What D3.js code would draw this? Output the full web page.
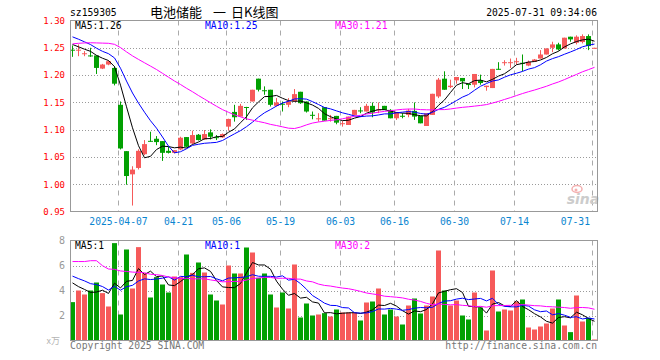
<!DOCTYPE html>
<html>
<head>
<meta charset="utf-8">
<script src="https://cdnjs.cloudflare.com/ajax/libs/d3/7.8.5/d3.min.js"></script>
<style>
  body { margin: 0; background: #fff; }
  text { font-family: "DejaVu Sans Mono", "Liberation Mono", monospace; }
</style>
</head>
<body>
<div id="wrapper"></div>
<script>
// trading days shown (88 sessions)
var dates = [
  '2025-03-25','2025-03-26','2025-03-27','2025-03-28','2025-03-31',
  '2025-04-01','2025-04-02','2025-04-03','2025-04-07','2025-04-08','2025-04-09','2025-04-10','2025-04-11',
  '2025-04-14','2025-04-15','2025-04-16','2025-04-17','2025-04-18','2025-04-21','2025-04-22','2025-04-23',
  '2025-04-24','2025-04-25','2025-04-28','2025-04-29','2025-04-30',
  '2025-05-06','2025-05-07','2025-05-08','2025-05-09','2025-05-12','2025-05-13','2025-05-14','2025-05-15',
  '2025-05-16','2025-05-19','2025-05-20','2025-05-21','2025-05-22','2025-05-23','2025-05-26','2025-05-27',
  '2025-05-28','2025-05-29','2025-05-30',
  '2025-06-03','2025-06-04','2025-06-05','2025-06-06','2025-06-09','2025-06-10','2025-06-11','2025-06-12',
  '2025-06-13','2025-06-16','2025-06-17','2025-06-18','2025-06-19','2025-06-20','2025-06-23','2025-06-24',
  '2025-06-25','2025-06-26','2025-06-27','2025-06-30',
  '2025-07-01','2025-07-02','2025-07-03','2025-07-04','2025-07-07','2025-07-08','2025-07-09','2025-07-10',
  '2025-07-11','2025-07-14','2025-07-15','2025-07-16','2025-07-17','2025-07-18','2025-07-21','2025-07-22',
  '2025-07-23','2025-07-24','2025-07-25','2025-07-28','2025-07-29','2025-07-30','2025-07-31'
];

var open = [
  1.2465,1.2450,1.2390,1.2360,1.2359,1.2119,1.2193,1.2131,1.1455,1.0606,
  1.0181,1.0298,1.0550,1.0795,1.0833,1.0790,1.0612,1.0575,1.0637,1.0864,
  1.0747,1.0907,1.0821,1.0950,1.0862,1.0858,1.1055,1.1325,1.1239,1.1415,
  1.1516,1.1934,1.1722,1.1731,1.1436,1.1475,1.1455,1.1516,1.1694,1.1516,
  1.1272,1.1205,1.1411,1.1205,1.1252,1.1114,1.1085,1.1270,1.1352,1.1332,
  1.1436,1.1367,1.1436,1.1362,1.1208,1.1254,1.1270,1.1344,1.1252,1.1067,
  1.1270,1.1608,1.1934,1.1780,1.1903,1.1947,1.1842,1.1823,1.1903,1.1780,
  1.1762,1.2115,1.2234,1.2233,1.2252,1.2225,1.2174,1.2242,1.2303,1.2377,
  1.2500,1.2562,1.2488,1.2703,1.2592,1.2605,1.2715,1.2488
];
var high = [
  1.2543,1.2562,1.2439,1.2500,1.2359,1.2205,1.2270,1.2162,1.1516,1.0606,
  1.0329,1.0640,1.0809,1.0962,1.0882,1.0790,1.0686,1.0624,1.0870,1.0864,
  1.0981,1.0920,1.0993,1.1005,1.0901,1.0930,1.1200,1.1455,1.1473,1.1418,
  1.1731,1.1934,1.1793,1.1731,1.1578,1.1516,1.1578,1.1744,1.1694,1.1516,
  1.1332,1.1301,1.1411,1.1270,1.1252,1.1159,1.1239,1.1362,1.1411,1.1473,
  1.1498,1.1498,1.1436,1.1375,1.1319,1.1301,1.1381,1.1498,1.1252,1.1301,
  1.1657,1.1947,1.2069,1.1916,1.1965,1.1947,1.1842,1.2020,1.2008,1.1805,
  1.2113,1.2236,1.2272,1.2303,1.2316,1.2377,1.2266,1.2295,1.2457,1.2488,
  1.2611,1.2592,1.2685,1.2703,1.2728,1.2746,1.2746,1.2500
];
var low = [
  1.2334,1.2346,1.2346,1.2334,1.2020,1.2110,1.2180,1.1811,1.0637,0.9991,
  0.9609,1.0270,1.0532,1.0778,1.0716,1.0427,1.0563,1.0563,1.0624,1.0674,
  1.0735,1.0800,1.0810,1.0821,1.0809,1.0850,1.0981,1.1147,1.1239,1.1178,
  1.1516,1.1700,1.1639,1.1424,1.1424,1.1332,1.1411,1.1516,1.1473,1.1313,
  1.1190,1.1147,1.1165,1.1147,1.1098,1.1055,1.1085,1.1258,1.1301,1.1332,
  1.1227,1.1301,1.1362,1.1208,1.1178,1.1208,1.1227,1.1178,1.1116,1.1067,
  1.1270,1.1578,1.1731,1.1762,1.1842,1.1744,1.1744,1.1774,1.1823,1.1713,
  1.1762,1.2100,1.2174,1.2131,1.2193,1.2069,1.2162,1.2242,1.2303,1.2377,
  1.2420,1.2450,1.2488,1.2611,1.2562,1.2580,1.2457,1.2488
];
var close = [
  1.2455,1.2465,1.2400,1.2355,1.2131,1.2193,1.2254,1.1842,1.0655,1.0150,
  1.0268,1.0612,1.0735,1.0790,1.0772,1.0575,1.0575,1.0624,1.0852,1.0686,
  1.0901,1.0809,1.0919,1.0870,1.0856,1.0919,1.1196,1.1227,1.1436,1.1410,
  1.1731,1.1731,1.1719,1.1455,1.1498,1.1473,1.1516,1.1651,1.1485,1.1332,
  1.1270,1.1208,1.1165,1.1210,1.1128,1.1118,1.1239,1.1362,1.1350,1.1436,
  1.1313,1.1370,1.1362,1.1208,1.1319,1.1252,1.1350,1.1239,1.1116,1.1301,
  1.1657,1.1916,1.1731,1.1805,1.1965,1.1885,1.1817,1.2020,1.1854,1.1805,
  1.2113,1.2113,1.2236,1.2236,1.2254,1.2223,1.2242,1.2285,1.2377,1.2488,
  1.2562,1.2469,1.2685,1.2654,1.2703,1.2715,1.2531,1.2500
];
// volume, unit 10k
var volume = [
  3.07,4.00,3.68,4.00,4.64,3.79,2.72,7.79,2.08,7.28,
  4.16,7.47,5.39,3.44,5.07,4.48,3.84,5.12,5.07,6.88,
  5.41,6.24,5.44,3.68,3.20,2.88,6.00,5.36,5.36,7.44,
  7.04,5.01,5.36,3.68,2.64,3.84,2.56,6.08,1.84,2.96,
  2.00,2.08,2.19,1.92,2.48,2.24,2.24,2.24,1.60,3.04,
  3.12,4.16,2.08,2.48,1.92,1.28,2.80,3.36,2.16,2.80,
  3.52,7.20,4.00,2.80,3.20,2.00,1.68,3.84,2.64,0.80,
  5.60,2.32,2.48,2.40,3.12,3.28,1.04,0.88,1.12,1.36,
  2.56,3.28,1.20,0.67,3.60,1.52,1.81,0.08
];

// sessions before the window, only needed to start the moving averages
var preClose = [
  1.215,1.220,1.225,1.222,1.230,1.236,1.240,1.245,1.250,1.248,
  1.255,1.258,1.262,1.265,1.268,1.270,1.272,1.275,1.278,1.280,
  1.290,1.288,1.285,1.280,1.277,1.268,1.262,1.255,1.250
];
var preVolume = [
  4.0,3.7,2.0,4.6,15.8,10.7,8.5,6.0,8.5,5.7,
  8.0,6.5,7.0,6.0,6.5,7.5,6.5,7.0,6.5,7.0,
  6.0,5.5,6.2,5.4,5.35,5.5,4.8,5.2,4.48
];

var priceTicks = [1.30, 1.25, 1.20, 1.15, 1.10, 1.05, 1.00, 0.95];
var volTicks = [8, 6, 4, 2];
var tickDates = ['2025-04-07','2025-04-21','2025-05-06','2025-05-19','2025-06-03',
                 '2025-06-16','2025-06-30','2025-07-14','2025-07-31'];

var maPeriods = [5, 10, 30];
var maColors = ['#000000', '#0000ff', '#ff00ff'];
var upColor = '#f65a5a', downColor = '#02a002';

// moving average over the window, using the earlier sessions as a lead-in
function movingAvg(pre, vals, n) {
  var all = pre.concat(vals), res = [];
  for (var i = 0; i < vals.length; i++) {
    var end = i + pre.length, s = 0;
    for (var k = end - n + 1; k <= end; k++) s += all[k];
    res.push(s / n);
  }
  return res;
}

var left = 70, right = 597;
var svg = d3.select('#wrapper').append('svg')
  .attr('width', 660).attr('height', 360);

var x = d3.scaleBand().domain(dates).range([left, right])
  .paddingInner(1 / 6).paddingOuter(0);
var bw = x.bandwidth();
var yP = d3.scaleLinear().domain([0.95, 1.30]).range([211.5, 20.5]);
var yV = d3.scaleLinear().domain([0, 8]).range([340.5, 240.5]);

var bars = dates.map(function (d, i) {
  return {d: d, o: open[i], h: high[i], l: low[i], c: close[i], v: volume[i], up: close[i] >= open[i]};
});

function gridX(d) { return Math.round(x(d)) + 0.5; }

// ---------- header ----------
svg.append('text').attr('x', 70).attr('y', 16).style('font-size', '9.7px').text('sz159305');
var title = svg.append('text').attr('y', 17)
  .style('font-family', '"Noto Sans CJK SC", sans-serif').style('font-size', '13px');
title.append('tspan').attr('x', 150).text('电池储能');
title.append('tspan').attr('x', 213).text('一');
title.append('tspan').attr('x', 231).text('日K线图');
svg.append('text').attr('x', right).attr('y', 16).attr('text-anchor', 'end')
  .style('font-size', '9.7px').text('2025-07-31 09:34:06');

// ---------- grids for both panels ----------
function panelGrid(y0, y1, yScale, hTicks) {
  var g = svg.append('g');
  g.selectAll('line.h').data(hTicks).enter().append('line')
    .attr('x1', left).attr('x2', right)
    .attr('y1', function (t) { return Math.round(yScale(t)) + 0.5; })
    .attr('y2', function (t) { return Math.round(yScale(t)) + 0.5; })
    .attr('stroke', '#9a9a9a').attr('stroke-dasharray', '1,2');
  g.selectAll('line.v').data(tickDates).enter().append('line')
    .attr('x1', gridX).attr('x2', gridX)
    .attr('y1', y0).attr('y2', y1)
    .attr('stroke', '#aaaaaa').attr('stroke-dasharray', '5,5');
}
panelGrid(20.5, 211.5, yP, [1.25, 1.20, 1.15, 1.10, 1.05, 1.00]);
panelGrid(240.5, 340.5, yV, [6, 4, 2]);

// watermark
svg.append('ellipse').attr('cx', 577).attr('cy', 189).attr('rx', 5).attr('ry', 3.5)
  .attr('fill', 'none').attr('stroke', '#f4b0b0').attr('stroke-width', 1.5);
svg.append('circle').attr('cx', 576).attr('cy', 190).attr('r', 1.5).attr('fill', '#f4b0b0');
svg.append('text').attr('x', 583).attr('y', 204).attr('text-anchor', 'middle')
  .style('font-family', '"DejaVu Sans", sans-serif').style('font-size', '14px')
  .style('font-style', 'italic').style('font-weight', 'bold')
  .attr('fill', '#cccccc').text('sina');

// ---------- candles ----------
var cg = svg.append('g');
cg.selectAll('line.wick').data(bars).enter().append('line')
  .attr('x1', function (b) { return x(b.d) + bw / 2; })
  .attr('x2', function (b) { return x(b.d) + bw / 2; })
  .attr('y1', function (b) { return yP(b.h); })
  .attr('y2', function (b) { return yP(b.l); })
  .attr('stroke', function (b) { return b.up ? upColor : downColor; });
cg.selectAll('rect').data(bars).enter().append('rect')
  .attr('x', function (b) { return x(b.d); })
  .attr('width', bw)
  .attr('y', function (b) { return yP(Math.max(b.o, b.c)); })
  .attr('height', function (b) { return Math.max(1, Math.abs(yP(b.o) - yP(b.c))); })
  .attr('fill', function (b) { return b.up ? upColor : downColor; });

// ---------- volume bars ----------
svg.append('g').selectAll('rect').data(bars).enter().append('rect')
  .attr('x', function (b) { return x(b.d); })
  .attr('width', bw)
  .attr('y', function (b) { return yV(b.v); })
  .attr('height', function (b) { return yV(0) - yV(b.v); })
  .attr('fill', function (b) { return b.up ? upColor : downColor; });

// ---------- moving averages ----------
var pxMA = [], volMA = [];
maPeriods.forEach(function (n, k) {
  var pm = movingAvg(preClose, close, n);
  var vm = movingAvg(preVolume, volume, n);
  pxMA.push(pm); volMA.push(vm);
  svg.append('path').datum(pm)
    .attr('fill', 'none').attr('stroke', maColors[k]).attr('stroke-width', 1)
    .attr('d', d3.line().x(function (v, i) { return x(dates[i]) + bw / 2; }).y(function (v) { return yP(v); }));
  svg.append('path').datum(vm)
    .attr('fill', 'none').attr('stroke', maColors[k]).attr('stroke-width', 1)
    .attr('d', d3.line().x(function (v, i) { return x(dates[i]) + bw / 2; }).y(function (v) { return yV(v); }));
});

// ---------- frames ----------
svg.append('rect').attr('x', left + 0.5).attr('y', 20.5).attr('width', right - left).attr('height', 191)
  .attr('fill', 'none').attr('stroke', '#999999');
svg.append('rect').attr('x', left + 0.5).attr('y', 240.5).attr('width', right - left).attr('height', 100)
  .attr('fill', 'none').attr('stroke', '#999999');

// ---------- legends ----------
var maX = [75, 205, 335];
maPeriods.forEach(function (n, k) {
  var last = pxMA[k][pxMA[k].length - 1];
  svg.append('text').attr('x', maX[k]).attr('y', 29).attr('fill', maColors[k])
    .style('font-size', '9.7px').text('MA' + n + ':' + (Math.floor(last * 100) / 100).toFixed(2));
  var lastV = volMA[k][volMA[k].length - 1];
  svg.append('text').attr('x', maX[k]).attr('y', 249).attr('fill', maColors[k])
    .style('font-size', '9.7px').text('MA' + n + ':' + Math.floor(lastV));
});

// ---------- axes ----------
var yAxis = d3.axisLeft(yP).tickValues(priceTicks).tickSize(0).tickPadding(5)
  .tickFormat(d3.format('.2f'));
var ya = svg.append('g').attr('transform', 'translate(' + left + ',0)').call(yAxis);
ya.select('.domain').remove();
ya.selectAll('text').attr('fill', '#ff0000').style('font-size', '9px')
  .style('font-family', '"DejaVu Sans Mono", monospace');

var vAxis = d3.axisLeft(yV).tickValues(volTicks).tickSize(0).tickPadding(5);
var va = svg.append('g').attr('transform', 'translate(' + left + ',0)').call(vAxis);
va.select('.domain').remove();
va.selectAll('text').attr('fill', '#999999').style('font-size', '10px')
  .style('font-family', '"DejaVu Sans Mono", monospace');
svg.append('text').attr('x', 60).attr('y', 344).attr('text-anchor', 'end')
  .attr('fill', '#b4b4b4').style('font-size', '9px')
  .style('font-family', '"Noto Sans CJK SC", sans-serif').text('x万');

svg.append('g').selectAll('text').data(tickDates).enter().append('text')
  .attr('x', function (d, i) { return i === tickDates.length - 1 ? gridX(d) - 2.5 : gridX(d); })
  .attr('y', 225)
  .attr('text-anchor', function (d, i) { return i === tickDates.length - 1 ? 'end' : 'middle'; })
  .attr('fill', '#0a85d0').style('font-size', '9.7px')
  .text(function (d, i) { return i === 0 ? d : d.slice(5); });

// footer
svg.append('text').attr('x', 70).attr('y', 349).attr('fill', '#777777')
  .style('font-size', '9.7px').text('Copyright 2025 SINA.COM');
svg.append('text').attr('x', right).attr('y', 349).attr('text-anchor', 'end').attr('fill', '#777777')
  .style('font-size', '9.7px').text('http://finance.sina.com.cn');
</script>
</body>
</html>
